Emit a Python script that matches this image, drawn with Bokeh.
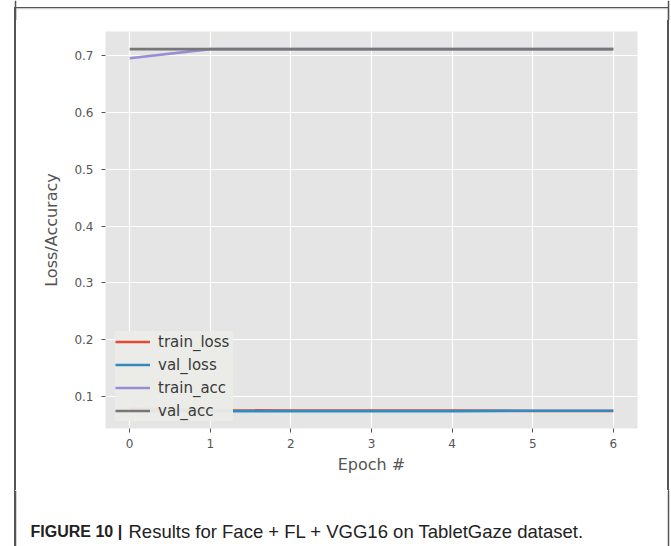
from bokeh.plotting import figure
from bokeh.models import Range1d, FixedTicker, Legend, LegendItem, Label, Span, Div, BoxAnnotation
from bokeh.layouts import column, row
from bokeh.embed import file_html
from bokeh.resources import INLINE

# ---- data ----
epochs = [0, 1, 2, 3, 4, 5, 6]
train_loss = [0.0790, 0.0760, 0.0756, 0.0756, 0.0756, 0.0749, 0.0747]
val_loss = [0.0745, 0.0745, 0.0745, 0.0745, 0.0746, 0.0752, 0.0752]
train_acc = [0.695, 0.711, 0.711, 0.711, 0.711, 0.711, 0.711]
val_acc = [0.711, 0.711, 0.711, 0.711, 0.711, 0.711, 0.711]
series_names = ["train_loss", "val_loss", "train_acc", "val_acc"]
series_colors = ["#E24A33", "#348ABD", "#988ED5", "#777777"]
x_ticks = [0, 1, 2, 3, 4, 5, 6]
y_ticks = [0.1, 0.2, 0.3, 0.4, 0.5, 0.6, 0.7]
x_label = "Epoch #"
y_label = "Loss/Accuracy"
caption_bold = "FIGURE 10 |"
caption_text = "Results for Face + FL + VGG16 on TabletGaze dataset."

W, H = 671, 546
TOP_H = 20          # decoration strip above the chart
LEFT_W = 30         # decoration strip left of the chart
RIGHT_W = 21        # decoration strip right of the chart
CAP_H = 56          # caption strip
CH = H - TOP_H - CAP_H          # chart height
CW = W - LEFT_W - RIGHT_W       # chart width
BORDER_L, BORDER_R, BORDER_T = 15, 668, 8
BORDER_COLOR = "#555555"


def deco(width, height):
    f = figure(width=width, height=height, output_backend="svg", toolbar_location=None,
               x_range=Range1d(0, width), y_range=Range1d(0, height),
               x_axis_type=None, y_axis_type=None,
               min_border_left=0, min_border_right=0, min_border_top=0, min_border_bottom=0)
    f.outline_line_color = None
    f.background_fill_color = "white"
    f.border_fill_color = "white"
    f.xgrid.visible = False
    f.ygrid.visible = False
    return f


def vline_css(xs):
    stops = ["rgba(255,255,255,0) 0px"]
    for x in xs:
        a, b = x - 0.75, x + 0.75
        stops += [f"rgba(255,255,255,0) {a}px", f"{BORDER_COLOR} {a}px",
                  f"{BORDER_COLOR} {b}px", f"rgba(255,255,255,0) {b}px"]
    return "linear-gradient(to right, " + ", ".join(stops) + ")"


def strip(width, height, x):
    return Div(width=width, height=height, text="", margin=(0, 0, 0, 0),
               width_policy="fixed", height_policy="fixed",
               styles={"height": f"{height}px", "width": f"{width}px",
                       "background-image": vline_css([x])})


# ---- main chart ----
p = figure(width=CW, height=CH, output_backend="svg", toolbar_location=None,
           x_range=Range1d(-0.3, 6.3), y_range=Range1d(0.044, 0.742),
           min_border_left=105 - LEFT_W, min_border_right=(W - RIGHT_W) - 637,
           min_border_top=31 - TOP_H, min_border_bottom=(TOP_H + CH) - 428)

p.background_fill_color = "#E5E5E5"
p.border_fill_color = "white"
p.outline_line_color = None

for ax, ticks in ((p.xaxis[0], x_ticks), (p.yaxis[0], y_ticks)):
    ax.ticker = FixedTicker(ticks=ticks)
    ax.axis_line_color = None
    ax.major_tick_line_color = "#555555"
    ax.major_tick_in = 0
    ax.major_tick_out = 4
    ax.minor_tick_line_color = None
    ax.major_label_text_color = "#555555"
    ax.major_label_text_font = "DejaVu Sans"
    ax.major_label_text_font_size = "12px"
    ax.axis_label_text_color = "#555555"
    ax.axis_label_text_font = "DejaVu Sans"
    ax.axis_label_text_font_size = "16px"
    ax.axis_label_text_font_style = "normal"

p.xaxis[0].axis_label = x_label
p.yaxis[0].axis_label = y_label
p.xaxis[0].major_label_standoff = 6
p.xaxis[0].axis_label_standoff = 4
p.yaxis[0].major_label_standoff = 8
p.yaxis[0].axis_label_standoff = 10

p.xgrid.grid_line_color = "white"
p.ygrid.grid_line_color = "white"
p.xgrid.grid_line_width = 1.2
p.ygrid.grid_line_width = 1.2

items = []
for name, ys, col in zip(series_names, [train_loss, val_loss, train_acc, val_acc], series_colors):
    r = p.line(epochs, ys, line_color=col, line_width=2.6)
    items.append(LegendItem(label=name, renderers=[r]))

legend = Legend(items=items, location=(10, 7))
legend.margin = 0
legend.padding = 10
legend.spacing = 2
legend.label_height = 21
legend.glyph_height = 21
legend.glyph_width = 35
legend.label_standoff = 8
legend.label_width = 75
legend.label_text_font = "DejaVu Sans"
legend.label_text_font_size = "15px"
legend.label_text_color = "#3a3a3a"
legend.background_fill_color = "#EBECE8"
legend.background_fill_alpha = 0.95
legend.border_line_color = None
p.add_layout(legend, "center")

# ---- decoration strips carrying the outer figure border ----
top = deco(W, TOP_H)
top.add_layout(BoxAnnotation(left=BORDER_L, right=BORDER_R, top=TOP_H - BORDER_T, bottom=-100,
                             fill_alpha=0, fill_color=None,
                             line_color=BORDER_COLOR, line_width=1.5))
top.add_layout(Span(location=BORDER_L, dimension="height", line_color=BORDER_COLOR, line_width=1.5))
top.add_layout(Span(location=BORDER_R, dimension="height", line_color=BORDER_COLOR, line_width=1.5))

left = strip(LEFT_W, CH, BORDER_L)
right = strip(RIGHT_W, CH, BORDER_R - (W - RIGHT_W))

cap = deco(W, CAP_H)
cap.add_layout(Span(location=BORDER_L, dimension="height", line_color=BORDER_COLOR, line_width=1.5))
cap.add_layout(Span(location=BORDER_R, dimension="height", line_color=BORDER_COLOR, line_width=1.5))
baseline = H - 531
cap.add_layout(Label(x=30, y=baseline, text=caption_bold, text_font="Liberation Sans",
                     text_font_style="bold", text_font_size="16px", text_color="#222222",
                     text_baseline="alphabetic"))
cap.add_layout(Label(x=128, y=baseline, text=caption_text, text_font="Liberation Sans",
                     text_font_size="18.5px", text_color="#222222", text_baseline="alphabetic"))

middle = row(left, p, right, styles={"background-image": vline_css([BORDER_L, BORDER_R])})
root = column(top, middle, cap)
html = file_html(root, INLINE)

# page-level outer frame overlay (open at the bottom, as in the cropped reference)
lw = 1.5
frame_div = (f'<div style="position:fixed;left:{BORDER_L - lw / 2}px;top:{BORDER_T - lw / 2}px;'
             f'width:{BORDER_R - BORDER_L + lw}px;height:{H - (BORDER_T - lw / 2)}px;'
             f'box-sizing:border-box;border:{lw}px solid {BORDER_COLOR};border-bottom:none;'
             f'pointer-events:none;z-index:2147483647;"></div>')
if "</body>" in html:
    html = html.replace("</body>", frame_div + "</body>", 1)
open("out.html", "w").write(html)
